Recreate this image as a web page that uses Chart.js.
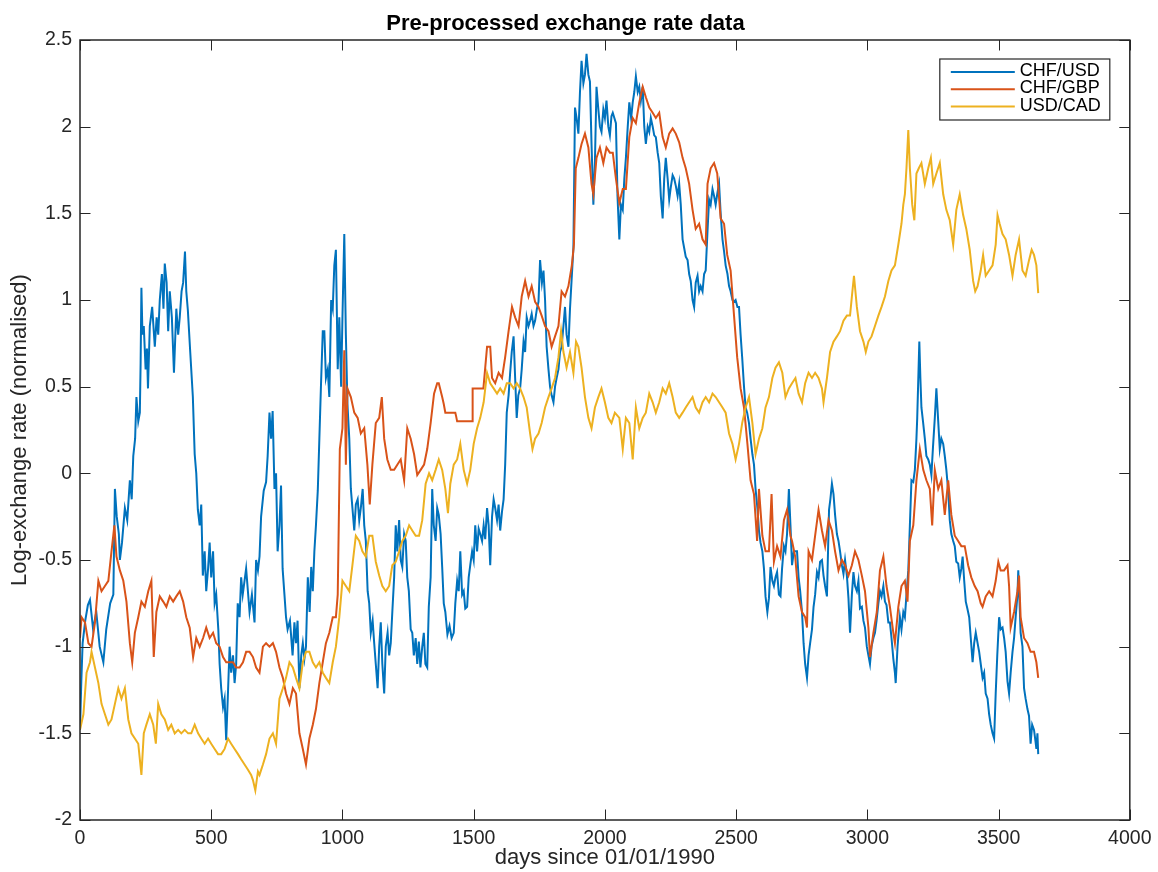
<!DOCTYPE html>
<html>
<head>
<meta charset="utf-8">
<script src="https://cdn.jsdelivr.net/npm/chart.js@4/dist/chart.umd.min.js"></script>
<style>
  html, body { margin: 0; padding: 0; background: #ffffff; }
  #wrap { width: 1158px; height: 872px; }
</style>
</head>
<body>
<div id="wrap"><canvas id="c" width="1158" height="872"></canvas></div>
<script>
// ---- data (day, value) ----
const seriesNames = ['CHF/USD', 'CHF/GBP', 'USD/CAD'];
const seriesColors = ['#0072BD', '#D95319', '#EDB120'];
const chartTitle = 'Pre-processed exchange rate data';
const xLabel = 'days since 01/01/1990';
const yLabel = 'Log-exchange rate (normalised)';
const xTickValues = [0, 500, 1000, 1500, 2000, 2500, 3000, 3500, 4000];
const xTickLabels = ['0', '500', '1000', '1500', '2000', '2500', '3000', '3500', '4000'];
const yTickValues = [-2, -1.5, -1, -0.5, 0, 0.5, 1, 1.5, 2, 2.5];
const yTickLabels = ['-2', '-1.5', '-1', '-0.5', '0', '0.5', '1', '1.5', '2', '2.5'];

const chfUsd = [[0,-1.48],[5,-1.2],[10,-0.98],[20,-0.85],[30,-0.76],[38,-0.73],[50,-0.9],[62,-0.8],[75,-1.0],[89,-1.09],[100,-0.9],[115,-0.75],[127,-0.7],[133,-0.09],[140,-0.25],[148,-0.35],[152,-0.5],[160,-0.4],[171,-0.2],[180,-0.27],[190,-0.04],[197,-0.15],[203,0.1],[210,0.2],[215,0.44],[222,0.3],[228,0.35],[231,0.64],[234,1.07],[238,0.8],[243,0.85],[250,0.6],[255,0.72],[259,0.49],[266,0.85],[275,0.96],[285,0.73],[292,0.9],[298,0.8],[304,1.0],[312,1.15],[318,0.95],[323,1.21],[330,1.1],[336,0.82],[342,1.05],[350,0.9],[358,0.58],[367,0.95],[374,0.8],[380,0.9],[387,1.05],[393,1.1],[400,1.28],[405,1.05],[411,0.94],[420,0.7],[430,0.44],[437,0.11],[443,0.0],[449,-0.21],[456,-0.3],[462,-0.18],[468,-0.59],[475,-0.45],[481,-0.68],[488,-0.55],[494,-0.4],[500,-0.6],[507,-0.45],[513,-0.75],[519,-0.7],[527,-0.9],[532,-1.1],[538,-1.24],[545,-1.35],[551,-1.3],[557,-1.54],[563,-1.3],[570,-1.0],[576,-1.15],[583,-1.05],[589,-1.21],[595,-1.1],[601,-0.75],[608,-0.83],[614,-0.6],[620,-0.7],[633,-0.55],[646,-0.8],[655,-0.7],[665,-0.86],[671,-0.5],[678,-0.56],[684,-0.48],[690,-0.25],[700,-0.1],[709,-0.05],[715,0.1],[722,0.35],[728,0.2],[734,0.36],[741,-0.09],[747,0.0],[753,-0.45],[760,-0.3],[766,-0.07],[772,-0.55],[779,-0.7],[785,-0.83],[791,-0.9],[800,-0.85],[810,-1.05],[817,-0.86],[823,-0.98],[829,-0.85],[836,-1.24],[843,-1.05],[849,-0.98],[855,-1.07],[861,-1.0],[868,-0.6],[875,-0.8],[881,-0.54],[887,-0.68],[893,-0.45],[899,-0.3],[906,-0.1],[912,0.2],[918,0.5],[925,0.82],[931,0.82],[937,0.55],[944,0.6],[950,0.44],[957,1.0],[963,0.95],[969,1.2],[975,1.29],[982,0.6],[988,0.9],[995,0.5],[1000,0.9],[1007,1.38],[1013,0.8],[1019,0.4],[1026,0.2],[1032,-0.09],[1038,-0.2],[1045,-0.33],[1051,-0.18],[1058,-0.15],[1064,-0.27],[1070,-0.2],[1077,-0.09],[1083,-0.3],[1089,-0.39],[1096,-0.68],[1102,-0.75],[1108,-0.92],[1115,-0.85],[1121,-0.98],[1127,-1.1],[1134,-1.24],[1140,-1.0],[1146,-0.86],[1152,-1.1],[1159,-1.27],[1165,-1.0],[1172,-0.92],[1178,-1.05],[1184,-0.98],[1190,-0.8],[1197,-0.6],[1203,-0.3],[1209,-0.45],[1216,-0.27],[1222,-0.5],[1228,-0.54],[1235,-0.35],[1241,-0.39],[1247,-0.6],[1253,-0.68],[1260,-0.9],[1266,-0.92],[1272,-1.05],[1279,-0.95],[1285,-1.1],[1291,-0.97],[1297,-1.12],[1304,-1.0],[1310,-0.92],[1316,-1.1],[1323,-1.12],[1329,-0.77],[1336,-0.6],[1342,-0.09],[1348,-0.3],[1355,-0.39],[1361,-0.2],[1367,-0.24],[1374,-0.35],[1380,-0.54],[1386,-0.75],[1392,-0.8],[1400,-0.93],[1408,-0.88],[1416,-0.95],[1424,-0.92],[1430,-0.75],[1437,-0.62],[1443,-0.68],[1449,-0.45],[1456,-0.7],[1462,-0.68],[1468,-0.78],[1475,-0.77],[1481,-0.6],[1487,-0.53],[1494,-0.45],[1500,-0.5],[1506,-0.3],[1513,-0.45],[1519,-0.32],[1525,-0.35],[1532,-0.39],[1538,-0.3],[1544,-0.38],[1551,-0.2],[1557,-0.3],[1563,-0.53],[1570,-0.25],[1576,-0.15],[1582,-0.2],[1589,-0.27],[1595,-0.18],[1601,-0.33],[1608,-0.22],[1614,-0.15],[1620,0.05],[1626,0.35],[1633,0.45],[1639,0.58],[1645,0.7],[1652,0.79],[1658,0.55],[1664,0.32],[1670,0.45],[1677,0.49],[1683,0.6],[1690,0.76],[1696,0.7],[1702,0.9],[1709,0.85],[1715,0.88],[1721,0.92],[1728,0.85],[1734,0.88],[1741,0.95],[1747,0.99],[1753,1.23],[1760,1.1],[1766,1.17],[1772,1.0],[1778,0.73],[1785,0.6],[1791,0.5],[1797,0.45],[1804,0.41],[1810,0.5],[1816,0.55],[1823,0.6],[1829,0.7],[1835,0.73],[1842,0.85],[1848,0.96],[1854,0.8],[1861,0.73],[1867,0.95],[1874,1.14],[1880,1.3],[1886,2.11],[1892,2.05],[1899,1.96],[1905,2.2],[1911,2.38],[1918,2.25],[1924,2.3],[1930,2.42],[1937,2.3],[1943,2.26],[1949,1.9],[1956,1.55],[1962,1.8],[1968,2.23],[1975,2.1],[1981,2.0],[1987,1.97],[1994,2.1],[2000,2.05],[2006,2.15],[2013,2.0],[2019,1.95],[2025,2.06],[2030,2.08],[2036,2.05],[2042,2.02],[2048,1.6],[2055,1.35],[2061,1.55],[2068,1.52],[2074,1.7],[2080,1.82],[2087,2.0],[2093,2.14],[2100,2.05],[2106,2.14],[2112,2.2],[2118,2.29],[2125,2.2],[2131,2.23],[2137,2.15],[2144,2.23],[2150,2.0],[2156,1.9],[2163,2.0],[2169,1.97],[2175,2.05],[2182,2.0],[2188,1.95],[2194,1.94],[2201,1.85],[2207,1.79],[2213,1.6],[2220,1.47],[2226,1.7],[2232,1.82],[2239,1.7],[2245,1.58],[2251,1.65],[2258,1.72],[2264,1.7],[2270,1.66],[2277,1.6],[2283,1.67],[2289,1.55],[2296,1.35],[2302,1.3],[2308,1.25],[2315,1.23],[2321,1.15],[2327,1.11],[2334,1.0],[2340,0.96],[2346,1.1],[2353,1.14],[2359,1.05],[2365,1.08],[2372,1.05],[2378,1.15],[2384,1.17],[2391,1.4],[2397,1.58],[2403,1.55],[2410,1.64],[2416,1.6],[2422,1.55],[2429,1.62],[2435,1.67],[2441,1.5],[2448,1.35],[2454,1.28],[2460,1.2],[2467,1.15],[2473,1.08],[2479,1.05],[2486,1.0],[2492,0.99],[2498,1.0],[2505,0.96],[2511,0.96],[2517,0.8],[2523,0.67],[2530,0.5],[2536,0.38],[2542,0.35],[2549,0.29],[2555,0.2],[2562,0.11],[2568,0.05],[2574,-0.09],[2581,-0.2],[2587,-0.33],[2593,-0.4],[2600,-0.45],[2606,-0.55],[2612,-0.71],[2619,-0.8],[2625,-0.72],[2631,-0.54],[2638,-0.62],[2644,-0.65],[2650,-0.6],[2656,-0.57],[2663,-0.7],[2669,-0.71],[2675,-0.55],[2682,-0.42],[2688,-0.45],[2694,-0.35],[2701,-0.09],[2707,-0.3],[2713,-0.53],[2720,-0.45],[2732,-0.45],[2738,-0.6],[2744,-0.68],[2751,-0.8],[2757,-0.98],[2763,-1.1],[2770,-1.18],[2776,-1.05],[2782,-0.98],[2789,-0.9],[2795,-0.77],[2801,-0.7],[2808,-0.57],[2814,-0.6],[2820,-0.51],[2827,-0.5],[2833,-0.59],[2839,-0.65],[2846,-0.71],[2854,-0.21],[2859,-0.15],[2865,-0.06],[2871,-0.12],[2877,-0.24],[2884,-0.35],[2890,-0.39],[2896,-0.45],[2903,-0.53],[2909,-0.58],[2915,-0.5],[2922,-0.59],[2928,-0.72],[2934,-0.92],[2941,-0.7],[2947,-0.57],[2953,-0.65],[2960,-0.68],[2966,-0.62],[2972,-0.78],[2979,-0.77],[2985,-0.85],[2991,-0.89],[2998,-1.0],[3004,-1.05],[3010,-1.1],[3016,-1.0],[3023,-0.95],[3029,-0.92],[3035,-0.85],[3042,-0.75],[3048,-0.68],[3054,-0.71],[3061,-0.65],[3067,-0.74],[3073,-0.76],[3080,-0.86],[3086,-0.86],[3092,-0.95],[3099,-1.07],[3105,-1.15],[3108,-1.21],[3115,-1.0],[3124,-0.83],[3130,-0.9],[3137,-0.8],[3143,-0.83],[3149,-0.7],[3156,-0.56],[3162,-0.3],[3168,-0.04],[3175,-0.05],[3181,0.02],[3187,0.2],[3190,0.32],[3198,0.76],[3202,0.55],[3206,0.38],[3212,0.3],[3219,0.2],[3225,0.1],[3232,0.08],[3238,0.05],[3244,-0.01],[3250,0.15],[3257,0.32],[3263,0.49],[3270,0.3],[3276,0.14],[3282,0.2],[3289,0.17],[3295,0.1],[3301,0.02],[3308,-0.1],[3314,-0.27],[3320,-0.35],[3327,-0.39],[3333,-0.42],[3339,-0.51],[3346,-0.52],[3352,-0.6],[3358,-0.55],[3363,-0.48],[3369,-0.62],[3375,-0.74],[3381,-0.78],[3388,-0.83],[3394,-0.95],[3401,-1.09],[3407,-0.98],[3413,-0.92],[3420,-0.98],[3426,-1.03],[3432,-1.1],[3439,-1.18],[3445,-1.15],[3451,-1.27],[3458,-1.3],[3464,-1.39],[3470,-1.45],[3477,-1.5],[3483,-1.53],[3489,-1.27],[3495,-1.05],[3502,-0.83],[3508,-0.9],[3515,-0.89],[3521,-0.95],[3527,-1.03],[3534,-1.2],[3540,-1.27],[3546,-1.15],[3553,-1.03],[3559,-0.95],[3565,-0.83],[3572,-0.7],[3575,-0.56],[3580,-0.75],[3584,-0.92],[3591,-1.0],[3597,-1.24],[3603,-1.3],[3610,-1.36],[3616,-1.4],[3622,-1.56],[3628,-1.45],[3635,-1.48],[3641,-1.55],[3644,-1.59],[3648,-1.5],[3651,-1.62]];

const chfGbp = [[0,-0.95],[6,-0.83],[19,-0.86],[32,-0.98],[44,-1.0],[57,-0.86],[70,-0.62],[82,-0.68],[95,-0.65],[108,-0.62],[120,-0.45],[131,-0.3],[139,-0.48],[152,-0.56],[165,-0.62],[177,-0.74],[190,-0.98],[199,-1.09],[209,-0.92],[222,-0.83],[234,-0.74],[247,-0.77],[260,-0.68],[272,-0.62],[281,-1.06],[291,-0.8],[304,-0.71],[317,-0.74],[329,-0.77],[342,-0.71],[355,-0.74],[367,-0.71],[380,-0.68],[393,-0.74],[405,-0.83],[418,-0.89],[431,-1.06],[443,-0.95],[456,-1.0],[469,-0.95],[481,-0.89],[494,-0.95],[507,-0.92],[519,-0.98],[532,-1.0],[545,-1.06],[557,-1.09],[570,-1.09],[583,-1.09],[595,-1.12],[608,-1.12],[621,-1.09],[633,-1.03],[646,-1.03],[659,-1.06],[671,-1.12],[684,-1.15],[697,-1.0],[709,-0.98],[722,-1.0],[735,-0.98],[747,-1.03],[760,-1.12],[773,-1.18],[785,-1.27],[798,-1.33],[811,-1.24],[823,-1.27],[836,-1.5],[849,-1.59],[861,-1.68],[874,-1.53],[887,-1.45],[899,-1.36],[912,-1.21],[925,-1.09],[937,-0.98],[950,-0.92],[963,-0.83],[975,-0.83],[982,-0.7],[985,-0.39],[990,0.14],[1000,0.26],[1007,0.71],[1013,0.05],[1019,0.49],[1032,0.44],[1045,0.35],[1058,0.32],[1070,0.23],[1083,0.26],[1095,0.05],[1104,-0.18],[1114,0.05],[1127,0.29],[1140,0.32],[1150,0.44],[1159,0.2],[1171,0.08],[1184,0.02],[1197,0.02],[1209,0.05],[1222,0.08],[1235,-0.04],[1247,0.26],[1260,0.2],[1273,0.11],[1285,-0.01],[1298,0.02],[1311,0.05],[1323,0.14],[1336,0.29],[1349,0.46],[1361,0.52],[1367,0.52],[1380,0.44],[1386,0.4],[1392,0.35],[1430,0.35],[1433,0.33],[1437,0.3],[1494,0.3],[1496,0.49],[1537,0.49],[1544,0.61],[1551,0.73],[1563,0.73],[1570,0.55],[1582,0.52],[1595,0.58],[1608,0.55],[1620,0.67],[1633,0.82],[1646,0.96],[1658,0.9],[1671,0.85],[1683,1.02],[1696,1.11],[1709,1.02],[1721,1.08],[1734,0.99],[1747,0.96],[1759,0.91],[1772,0.85],[1785,0.82],[1797,0.73],[1810,0.79],[1823,0.85],[1835,1.05],[1848,1.02],[1861,1.08],[1874,1.2],[1882,1.32],[1889,1.76],[1899,1.82],[1911,1.9],[1924,1.96],[1937,1.88],[1949,1.67],[1956,1.61],[1968,1.82],[1981,1.88],[1994,1.79],[2006,1.88],[2019,1.85],[2030,1.85],[2042,1.7],[2055,1.56],[2068,1.64],[2080,1.64],[2093,1.94],[2106,2.05],[2118,2.02],[2131,2.14],[2144,2.23],[2156,2.17],[2169,2.11],[2182,2.08],[2194,2.05],[2207,2.08],[2220,1.94],[2232,1.88],[2245,1.96],[2258,1.99],[2270,1.96],[2283,1.91],[2296,1.82],[2308,1.76],[2321,1.67],[2334,1.52],[2346,1.41],[2359,1.44],[2372,1.35],[2384,1.32],[2391,1.67],[2403,1.76],[2416,1.79],[2428,1.73],[2441,1.47],[2454,1.44],[2466,1.26],[2479,1.17],[2492,0.91],[2504,0.67],[2517,0.49],[2530,0.38],[2543,0.17],[2555,-0.04],[2568,-0.12],[2580,-0.39],[2587,-0.09],[2600,-0.36],[2612,-0.45],[2625,-0.45],[2635,-0.12],[2644,-0.51],[2656,-0.42],[2669,-0.48],[2682,-0.27],[2694,-0.21],[2707,-0.36],[2713,-0.39],[2725,-0.48],[2738,-0.71],[2751,-0.8],[2763,-0.83],[2770,-0.89],[2776,-0.45],[2789,-0.5],[2801,-0.36],[2814,-0.21],[2827,-0.33],[2839,-0.42],[2852,-0.27],[2865,-0.33],[2877,-0.45],[2890,-0.56],[2903,-0.5],[2915,-0.53],[2928,-0.59],[2941,-0.53],[2953,-0.45],[2966,-0.5],[2979,-0.59],[2991,-0.68],[3004,-0.89],[3010,-1.06],[3023,-0.92],[3036,-0.8],[3048,-0.56],[3061,-0.48],[3073,-0.65],[3086,-0.77],[3099,-0.92],[3105,-0.98],[3118,-0.77],[3130,-0.65],[3143,-0.62],[3153,-0.74],[3162,-0.39],[3175,-0.3],[3187,-0.04],[3200,0.14],[3213,0.02],[3225,-0.04],[3238,-0.09],[3247,-0.3],[3257,0.02],[3270,-0.09],[3282,-0.04],[3295,-0.24],[3308,-0.04],[3320,-0.24],[3333,-0.36],[3346,-0.39],[3358,-0.42],[3371,-0.42],[3384,-0.53],[3396,-0.6],[3409,-0.65],[3420,-0.68],[3432,-0.75],[3439,-0.77],[3451,-0.71],[3464,-0.68],[3477,-0.71],[3489,-0.62],[3499,-0.51],[3508,-0.56],[3521,-0.56],[3534,-0.53],[3540,-0.65],[3546,-0.89],[3559,-0.8],[3572,-0.68],[3578,-0.59],[3584,-0.83],[3597,-0.95],[3610,-0.98],[3622,-1.03],[3635,-1.03],[3644,-1.09],[3651,-1.18]];

const usdCad = [[0,-1.48],[13,-1.39],[25,-1.15],[38,-1.09],[44,-1.03],[57,-1.12],[70,-1.21],[82,-1.33],[95,-1.39],[108,-1.45],[120,-1.42],[133,-1.33],[146,-1.24],[158,-1.3],[171,-1.24],[184,-1.42],[196,-1.5],[209,-1.53],[222,-1.56],[234,-1.74],[243,-1.5],[253,-1.45],[266,-1.39],[279,-1.45],[289,-1.56],[298,-1.33],[310,-1.39],[323,-1.42],[336,-1.48],[348,-1.45],[361,-1.5],[374,-1.48],[386,-1.5],[399,-1.48],[412,-1.5],[424,-1.5],[437,-1.45],[450,-1.5],[462,-1.53],[475,-1.56],[488,-1.53],[500,-1.56],[513,-1.59],[526,-1.62],[538,-1.62],[551,-1.59],[564,-1.53],[576,-1.56],[589,-1.59],[602,-1.62],[614,-1.65],[627,-1.68],[640,-1.71],[652,-1.74],[659,-1.77],[668,-1.83],[678,-1.72],[684,-1.74],[697,-1.68],[709,-1.62],[722,-1.53],[735,-1.5],[747,-1.56],[760,-1.3],[773,-1.24],[785,-1.18],[798,-1.09],[811,-1.12],[823,-1.18],[836,-1.24],[849,-1.09],[861,-1.03],[874,-1.03],[887,-1.09],[899,-1.12],[912,-1.09],[925,-1.15],[937,-1.18],[950,-1.21],[963,-1.09],[975,-1.0],[988,-0.83],[1000,-0.62],[1013,-0.65],[1026,-0.68],[1038,-0.53],[1051,-0.36],[1064,-0.39],[1076,-0.45],[1089,-0.48],[1102,-0.36],[1114,-0.36],[1127,-0.51],[1140,-0.59],[1152,-0.65],[1165,-0.68],[1178,-0.65],[1190,-0.53],[1203,-0.51],[1216,-0.45],[1228,-0.39],[1241,-0.36],[1254,-0.3],[1266,-0.33],[1279,-0.36],[1292,-0.36],[1304,-0.27],[1317,-0.06],[1330,0.0],[1342,-0.04],[1355,0.02],[1367,0.08],[1380,0.02],[1392,-0.09],[1402,-0.23],[1411,-0.06],[1424,0.05],[1437,0.08],[1449,0.17],[1462,0.02],[1475,-0.06],[1487,0.02],[1500,0.17],[1513,0.26],[1525,0.32],[1538,0.41],[1551,0.58],[1563,0.52],[1576,0.49],[1589,0.46],[1601,0.49],[1614,0.46],[1626,0.52],[1639,0.52],[1652,0.49],[1664,0.52],[1677,0.49],[1690,0.44],[1702,0.38],[1715,0.23],[1724,0.14],[1734,0.2],[1747,0.23],[1759,0.29],[1772,0.38],[1785,0.44],[1797,0.49],[1810,0.55],[1823,0.67],[1833,0.82],[1842,0.7],[1854,0.61],[1867,0.7],[1880,0.58],[1890,0.76],[1899,0.73],[1911,0.61],[1924,0.44],[1937,0.32],[1949,0.26],[1962,0.38],[1975,0.44],[1987,0.49],[2000,0.41],[2013,0.32],[2025,0.29],[2038,0.35],[2055,0.32],[2068,0.14],[2080,0.32],[2093,0.29],[2106,0.08],[2118,0.38],[2131,0.26],[2144,0.32],[2156,0.35],[2169,0.46],[2182,0.41],[2194,0.35],[2207,0.41],[2220,0.49],[2232,0.46],[2245,0.52],[2258,0.44],[2270,0.35],[2283,0.32],[2296,0.35],[2308,0.38],[2321,0.41],[2334,0.44],[2346,0.38],[2359,0.35],[2372,0.41],[2384,0.44],[2397,0.41],[2410,0.46],[2422,0.44],[2435,0.41],[2448,0.38],[2460,0.35],[2473,0.23],[2486,0.17],[2498,0.08],[2511,0.17],[2523,0.29],[2536,0.38],[2549,0.44],[2562,0.29],[2574,0.11],[2587,0.2],[2600,0.26],[2612,0.38],[2625,0.44],[2638,0.55],[2650,0.61],[2663,0.64],[2676,0.58],[2688,0.44],[2701,0.49],[2713,0.52],[2726,0.55],[2738,0.46],[2751,0.41],[2763,0.52],[2776,0.58],[2789,0.55],[2801,0.58],[2814,0.55],[2827,0.49],[2833,0.41],[2846,0.55],[2858,0.7],[2871,0.76],[2884,0.79],[2896,0.82],[2909,0.88],[2922,0.91],[2934,0.91],[2941,1.02],[2949,1.14],[2960,0.96],[2972,0.82],[2985,0.76],[2994,0.7],[3004,0.76],[3016,0.79],[3029,0.85],[3042,0.91],[3054,0.96],[3067,1.02],[3080,1.11],[3092,1.17],[3105,1.2],[3118,1.32],[3130,1.44],[3137,1.55],[3143,1.61],[3149,1.76],[3156,1.98],[3162,1.76],[3171,1.55],[3179,1.46],[3187,1.73],[3196,1.76],[3206,1.79],[3219,1.67],[3232,1.76],[3242,1.82],[3251,1.67],[3263,1.73],[3276,1.79],[3289,1.61],[3301,1.52],[3314,1.46],[3327,1.32],[3339,1.52],[3352,1.61],[3365,1.49],[3377,1.41],[3390,1.29],[3403,1.11],[3411,1.05],[3420,1.08],[3432,1.17],[3441,1.26],[3451,1.14],[3464,1.17],[3477,1.2],[3489,1.32],[3496,1.49],[3504,1.44],[3515,1.38],[3527,1.35],[3540,1.26],[3553,1.14],[3565,1.26],[3578,1.35],[3591,1.17],[3603,1.14],[3616,1.23],[3626,1.29],[3635,1.26],[3644,1.2],[3651,1.04]];

const allSeries = [chfUsd, chfGbp, usdCad];

// ---- styling ----
const FONT = "'Liberation Sans', Arial, Helvetica, sans-serif";
const AX = '#262626';

const framePlugin = {
  id: 'matlabFrame',
  afterDatasetsDraw(chart) {
    const { ctx, chartArea: a, scales } = chart;
    const xs = scales.x, ys = scales.y;
    ctx.save();
    // inward tick marks on all four sides
    const L = 10.5;
    ctx.strokeStyle = AX;
    ctx.lineWidth = 1;
    ctx.beginPath();
    xs.ticks.forEach(t => {
      const px = Math.round(xs.getPixelForValue(t.value)) + 0.5;
      ctx.moveTo(px, a.bottom); ctx.lineTo(px, a.bottom - L);
      ctx.moveTo(px, a.top); ctx.lineTo(px, a.top + L);
    });
    ys.ticks.forEach(t => {
      const py = Math.round(ys.getPixelForValue(t.value)) + 0.5;
      ctx.moveTo(a.left, py); ctx.lineTo(a.left + L, py);
      ctx.moveTo(a.right, py); ctx.lineTo(a.right - L, py);
    });
    ctx.stroke();
    // box
    ctx.lineWidth = 1.5;
    ctx.strokeRect(a.left, a.top, a.right - a.left, a.bottom - a.top);

    // legend box (upper right, inside the axes)
    const lw = 170, lh = 61;
    const lx = a.right - 20 - lw, ly = a.top + 19;
    ctx.fillStyle = '#ffffff';
    ctx.fillRect(lx, ly, lw, lh);
    ctx.lineWidth = 1.2;
    ctx.strokeStyle = AX;
    ctx.strokeRect(lx, ly, lw, lh);
    ctx.font = '18px ' + FONT;
    ctx.textAlign = 'left';
    ctx.textBaseline = 'middle';
    chart.data.datasets.forEach((ds, i) => {
      const yy = ly + 13 + i * 17.3;
      ctx.strokeStyle = ds.borderColor;
      ctx.lineWidth = 2;
      ctx.beginPath();
      ctx.moveTo(lx + 11, yy); ctx.lineTo(lx + 75, yy);
      ctx.stroke();
      ctx.fillStyle = '#000000';
      ctx.fillText(ds.label, lx + 80, yy - 1);
    });
    ctx.restore();
  }
};

const datasets = allSeries.map((s, i) => ({
  label: seriesNames[i],
  data: s.map(p => ({ x: p[0], y: p[1] })),
  borderColor: seriesColors[i],
  backgroundColor: seriesColors[i],
  borderWidth: 2,
  pointRadius: 0,
  tension: 0,
  fill: false,
  order: 3 - i
}));

new Chart(document.getElementById('c'), {
  type: 'line',
  data: { datasets },
  options: {
    responsive: false,
    animation: false,
    devicePixelRatio: 1,
    layout: { padding: { left: 0, right: 27, top: 0, bottom: 0 } },
    plugins: {
      legend: { display: false },
      tooltip: { enabled: false },
      title: {
        display: true,
        text: chartTitle,
        color: '#000000',
        font: { family: FONT, size: 22, weight: 'bold', lineHeight: 1.2 },
        padding: { top: 11.2, bottom: 2.4 }
      }
    },
    scales: {
      x: {
        type: 'linear',
        min: 0, max: 4000,
        afterBuildTicks: s => { s.ticks = xTickValues.map(v => ({ value: v })); },
        afterFit: s => { s.height = 52; },
        ticks: {
          color: AX,
          font: { family: FONT, size: 19.5, lineHeight: 1.2 },
          padding: 6.5,
          maxRotation: 0,
          autoSkip: false,
          callback: v => xTickLabels[xTickValues.indexOf(v)]
        },
        grid: { display: false, drawTicks: false },
        border: { display: false },
        title: {
          display: true, text: xLabel, color: AX,
          font: { family: FONT, size: 22, lineHeight: 1.2 },
          padding: { top: 0, bottom: 0.4 }
        }
      },
      y: {
        type: 'linear',
        min: -2, max: 2.5,
        afterBuildTicks: s => { s.ticks = yTickValues.map(v => ({ value: v })); },
        afterFit: s => { s.width = 80; },
        ticks: {
          color: AX,
          font: { family: FONT, size: 19.5, lineHeight: 1.2 },
          padding: 8,
          autoSkip: false,
          callback: v => yTickLabels[yTickValues.indexOf(v)]
        },
        grid: { display: false, drawTicks: false },
        border: { display: false },
        title: {
          display: true, text: yLabel, color: AX,
          font: { family: FONT, size: 22, lineHeight: 1.2 },
          padding: { top: 7.2, bottom: 0 }
        }
      }
    }
  },
  plugins: [framePlugin]
});
</script>
</body>
</html>
